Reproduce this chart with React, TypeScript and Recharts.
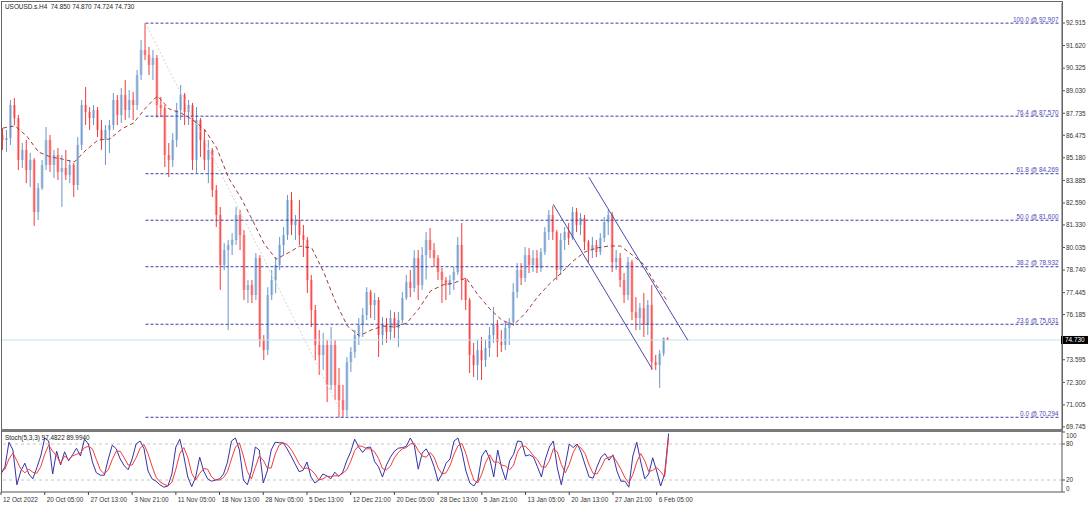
import React from "react";
import { Bar, ComposedChart, Line, ReferenceLine, XAxis, YAxis } from "recharts";

const FONT = "'Liberation Sans', Arial, sans-serif";
const FS = 6.4;

const opens = [
  86.49, 86.2, 86.32, 88.21, 87.46, 85.06, 85.63, 84.48, 85.06, 82.07,
  83.44, 84.77, 86.2, 84.77, 85.34, 84.37, 84.6, 84.19, 84.77, 83.62,
  85.92, 88.21, 87.81, 87.46, 87.92, 86.78, 86.2, 86.78, 87.06, 88.5,
  87.64, 88.79, 87.92, 88.5, 88.21, 89.93, 91.37, 91.08, 90.51, 90.91,
  88.21, 88.04, 85.34, 85.06, 86.2, 87.92, 88.79, 87.81, 88.21, 85.06,
  87.35, 86.2, 85.06, 85.63, 83.33, 81.9, 79.03, 79.89, 80.18, 80.47,
  81.9, 80.75, 77.6, 77.88, 77.31, 79.43, 74.73, 74.15, 77.31, 78.17,
  79.03, 80.18, 80.75, 82.76, 81.33, 81.61, 80.75, 80.47, 78.17, 76.45,
  74.44, 73.87, 74.44, 72.15, 74.44, 72.15, 71.29, 70.71, 73.46, 74.04,
  75.01, 75.59, 76.16, 77.48, 76.74, 77.02, 75.01, 75.59, 75.19, 75.99,
  75.42, 75.87, 77.14, 78.06, 77.71, 79.43, 77.88, 79.6, 80.47, 79.89,
  79.43, 78.63, 78.17, 77.88, 78.17, 78.63, 80.18, 78.17, 77.02, 73.87,
  73.29, 74.15, 73.58, 74.27, 75.01, 75.59, 74.61, 74.44, 75.42, 75.76,
  77.48, 78.74, 78.29, 79.6, 79.03, 79.43, 78.86, 79.78, 80.92, 81.9,
  80.92, 78.74, 80.47, 80.92, 80.58, 82.07, 81.33, 81.73, 80.35, 79.89,
  80.18, 79.78, 80.58, 81.5, 81.9, 79.2, 79.43, 78.17, 77.31, 79.2,
  76.33, 75.99, 76.56, 75.59, 76.74, 73.46, 73.29, 73.95, 74.85,
];
const highs = [
  86.89, 86.78, 88.5, 88.61, 87.64, 86.03, 86.2, 85.46, 85.17, 83.73,
  85.06, 86.95, 86.49, 85.63, 85.74, 85.34, 85.63, 85.06, 84.88, 86.37,
  88.5, 89.24, 88.09, 88.21, 88.09, 87.35, 87.06, 87.35, 88.9, 88.79,
  89.19, 89.65, 89.07, 88.96, 90.22, 91.94, 92.91, 91.54, 91.37, 91.08,
  88.67, 88.21, 86.03, 86.6, 88.33, 89.36, 88.9, 88.5, 88.33, 88.09,
  87.46, 86.78, 86.2, 85.74, 83.62, 82.36, 80.29, 80.47, 80.86, 82.36,
  82.19, 81.04, 78.17, 78.17, 79.72, 79.6, 75.01, 77.76, 78.74, 79.49,
  80.64, 81.21, 83.05, 83.22, 81.9, 82.76, 81.33, 80.64, 78.46, 76.74,
  75.3, 75.13, 74.73, 75.47, 74.73, 73.12, 72.15, 73.75, 74.32, 75.3,
  75.99, 76.56, 77.76, 77.6, 77.42, 77.19, 76.05, 75.99, 76.45, 76.33,
  76.33, 77.48, 78.46, 78.74, 79.89, 79.89, 80.06, 80.92, 81.15, 80.29,
  79.6, 78.86, 78.34, 78.46, 78.92, 80.64, 81.44, 78.29, 77.14, 74.56,
  74.73, 74.9, 74.73, 75.47, 76.62, 75.87, 75.3, 75.76, 75.99, 77.99,
  79.14, 79.14, 80.06, 80.0, 79.89, 79.89, 80.0, 81.21, 82.19, 82.42,
  81.04, 80.86, 81.21, 81.44, 82.36, 82.3, 82.01, 81.9, 80.47, 80.64,
  80.47, 80.86, 81.79, 82.19, 82.07, 79.89, 79.72, 78.57, 79.49, 79.32,
  77.19, 76.85, 77.42, 77.02, 77.88, 73.87, 74.15, 74.87, 74.87,
];
const lows = [
  85.63, 85.52, 85.92, 87.06, 84.48, 84.6, 83.73, 83.5, 81.27, 81.61,
  83.33, 84.48, 84.37, 84.02, 83.91, 82.36, 83.91, 83.73, 82.93, 83.33,
  85.63, 87.06, 86.78, 87.06, 86.37, 85.63, 84.77, 85.46, 86.78, 87.06,
  87.18, 87.35, 87.46, 87.35, 87.92, 89.65, 90.79, 89.93, 89.65, 87.49,
  87.52, 84.65, 84.08, 84.65, 85.8, 87.35, 87.06, 87.06, 84.48, 84.31,
  85.23, 84.48, 83.73, 82.93, 81.21, 77.6, 78.74, 75.3, 79.6, 80.18,
  79.89, 77.02, 76.85, 76.85, 77.02, 74.32, 73.58, 73.87, 77.02, 77.42,
  78.74, 79.6, 80.47, 80.75, 80.47, 80.18, 79.49, 77.42, 75.47, 73.58,
  72.72, 73.01, 71.17, 71.86, 71.29, 70.29, 70.29, 70.35, 72.89, 73.7,
  74.44, 74.9, 75.87, 75.99, 75.87, 73.75, 74.44, 74.56, 74.73, 74.84,
  74.32, 75.7, 77.02, 77.19, 77.48, 77.02, 77.6, 78.2, 79.43, 78.92,
  78.17, 76.85, 77.02, 77.31, 77.6, 78.46, 77.02, 76.45, 72.83, 72.6,
  72.43, 72.43, 73.18, 73.75, 74.56, 73.75, 74.04, 74.15, 74.44, 75.59,
  77.14, 77.88, 78.06, 78.57, 78.63, 78.57, 78.63, 79.6, 80.47, 80.47,
  78.17, 78.46, 79.89, 80.18, 80.47, 80.92, 80.75, 79.89, 79.2, 79.43,
  79.49, 79.6, 80.35, 80.75, 78.63, 78.74, 77.76, 76.85, 77.02, 75.87,
  75.3, 75.3, 74.9, 75.01, 73.01, 73.01, 71.98, 73.8, 74.72,
];
const closes = [
  86.2, 86.32, 88.21, 87.46, 85.06, 85.63, 84.48, 85.06, 82.07, 83.44,
  84.77, 86.2, 84.77, 85.34, 84.37, 84.6, 84.19, 84.77, 83.62, 85.92,
  88.21, 87.81, 87.46, 87.92, 86.78, 86.2, 86.78, 87.06, 88.5, 87.64,
  88.79, 87.92, 88.5, 88.21, 89.93, 91.37, 91.08, 90.51, 90.91, 88.21,
  88.04, 85.34, 85.06, 86.2, 87.92, 88.79, 87.81, 88.21, 85.06, 87.35,
  86.2, 85.06, 85.63, 83.33, 81.9, 79.03, 79.89, 80.18, 80.47, 81.9,
  80.75, 77.6, 77.88, 77.31, 79.43, 74.73, 74.15, 77.31, 78.17, 79.03,
  80.18, 80.75, 82.76, 81.33, 81.61, 80.75, 80.47, 78.17, 76.45, 74.44,
  73.87, 74.44, 72.15, 74.44, 72.15, 71.29, 70.71, 73.46, 74.04, 75.01,
  75.59, 76.16, 77.48, 76.74, 77.02, 75.01, 75.59, 75.19, 75.99, 75.42,
  75.87, 77.14, 78.06, 77.71, 79.43, 77.88, 79.6, 80.47, 79.89, 79.43,
  78.63, 78.17, 77.88, 78.17, 78.63, 80.18, 78.17, 77.02, 73.87, 73.29,
  74.15, 73.58, 74.27, 75.01, 75.59, 74.61, 74.44, 75.42, 75.76, 77.48,
  78.74, 78.29, 79.6, 79.03, 79.43, 78.86, 79.78, 80.92, 81.9, 80.92,
  78.74, 80.47, 80.92, 80.58, 82.07, 81.33, 81.73, 80.35, 79.89, 80.18,
  79.78, 80.58, 81.5, 81.9, 79.2, 79.43, 78.17, 77.31, 79.2, 76.33,
  75.99, 76.56, 75.59, 76.74, 73.46, 73.29, 73.95, 74.85, 74.73,
];

// moving average, read at every third candle
const maEvery3 = [
  86.89, 87.01, 86.43, 85.51, 85.23, 85.11, 84.94, 85.63, 86.2, 86.26,
  86.84, 87.18, 88.04, 88.73, 87.98, 87.75, 87.35, 86.78, 85.74, 84.02,
  82.93, 81.61, 80.24, 79.37, 79.72, 80.12, 80.0, 78.63, 76.91, 75.53,
  74.96, 75.3, 75.53, 75.47, 75.7, 76.51, 77.54, 77.88, 78.0, 78.29,
  77.31, 76.51, 75.87, 75.59, 76.28, 77.19, 77.94, 78.57, 79.26, 79.78,
  80.01, 80.12, 80.12, 79.6, 79.03, 77.88, 76.91,
];

// Stoch(5,3,3)
const stochK = [
  30, 42, 83, 70, 12, 35, 48, 30, 22, 40, 60, 90, 85, 30, 68, 45, 67, 52, 62, 73,
  60, 88, 80, 50, 32, 28, 28, 55, 78, 72, 55, 44, 37, 55, 80, 85, 72, 35, 22, 18,
  12, 8, 10, 30, 75, 88, 60, 25, 9, 25, 58, 35, 22, 18, 20, 22, 30, 50, 85, 90,
  70, 20, 12, 35, 75, 70, 15, 35, 70, 83, 82, 82, 72, 60, 47, 34, 36, 50, 25, 15,
  20, 30, 27, 22, 33, 26, 33, 52, 67, 88, 75, 66, 74, 75, 51, 42, 25, 45, 58, 68,
  73, 74, 76, 90, 78, 38, 65, 72, 60, 42, 18, 30, 48, 55, 85, 90, 67, 35, 15, 10,
  20, 60, 70, 55, 25, 70, 40, 20, 52, 63, 85, 84, 60, 62, 58, 42, 25, 55, 75, 85,
  40, 12, 45, 80, 74, 80, 66, 45, 25, 23, 42, 58, 64, 53, 62, 35, 18, 18, 8, 60,
  83, 50, 22, 30, 57, 35, 10, 30, 97.48,
];
const stochD = [
  35, 38, 55, 65, 52, 38, 32, 38, 33, 31, 42, 63, 78, 68, 60, 48, 60, 54, 60, 63,
  65, 74, 76, 72, 54, 37, 30, 37, 54, 68, 68, 57, 45, 45, 57, 73, 79, 64, 43, 25,
  17, 13, 10, 16, 38, 64, 74, 58, 31, 20, 31, 39, 38, 25, 20, 20, 24, 34, 55, 75,
  82, 60, 34, 22, 41, 60, 53, 40, 40, 63, 78, 82, 79, 71, 60, 47, 39, 40, 37, 30,
  20, 22, 26, 26, 27, 27, 31, 37, 51, 69, 77, 76, 72, 72, 67, 56, 39, 37, 43, 57,
  66, 72, 74, 80, 81, 69, 60, 58, 66, 58, 40, 30, 32, 44, 63, 77, 81, 64, 39, 20,
  15, 30, 50, 62, 50, 50, 45, 43, 37, 45, 67, 77, 76, 69, 60, 54, 42, 41, 52, 72,
  67, 46, 32, 46, 66, 78, 73, 64, 45, 31, 30, 41, 55, 58, 60, 50, 38, 24, 15, 29,
  50, 64, 52, 34, 36, 41, 34, 25, 89.99,
];

const priceTicks = [
  92.915, 91.62, 90.325, 89.03, 87.735, 86.475, 85.18, 83.885, 82.59, 81.33,
  80.035, 78.74, 77.445, 76.185, 74.73, 73.595, 72.3, 71.005, 69.745,
];
const lastPrice = 74.73;

const fibPct = ["100.0", "76.4", "61.8", "50.0", "38.2", "23.6", "0.0"];
const fibPrice = [92.907, 87.57, 84.269, 81.6, 78.932, 75.631, 70.294];

const dateIdx = [0, 11, 22, 33, 44, 55, 66, 77, 88, 99, 110, 121, 132, 143, 154, 165];
const dateText = [
  "12 Oct 2022", "20 Oct 05:00", "27 Oct 13:00", "3 Nov 21:00", "11 Nov 05:00",
  "18 Nov 13:00", "28 Nov 05:00", "5 Dec 13:00", "12 Dec 21:00", "20 Dec 05:00",
  "28 Dec 13:00", "5 Jan 21:00", "13 Jan 05:00", "20 Jan 13:00", "27 Jan 21:00",
  "6 Feb 05:00",
];

const SLOTS = 268;

const rows = Array.from({ length: SLOTS }, (_, i) => {
  if (i >= opens.length) return { i };
  return {
    i,
    o: opens[i],
    h: highs[i],
    l: lows[i],
    c: closes[i],
    range: [lows[i], highs[i]],
    ma: i % 3 === 0 ? maEvery3[i / 3] : null,
    k: stochK[i],
    d: stochD[i],
  };
});

function Candle(props: any) {
  const { x, y, width, height, payload } = props;
  if (!payload || payload.h == null || !isFinite(y) || !isFinite(height)) return null;
  const { o, h, l, c } = payload;
  const up = c >= o;
  const top = Math.min(y, y + height);
  const span = Math.abs(height);
  const cx = x + width / 2;
  const toY = (v: number) => top + ((h - v) / (h - l || 1)) * span;
  const bTop = toY(Math.max(o, c));
  const bBot = toY(Math.min(o, c));
  return (
    <g>
      <rect
        x={cx - 1.4}
        y={bTop}
        width={2.8}
        height={Math.max(bBot - bTop, 0.8)}
        fill={up ? "#b2cbe5" : "#ffa9a9"}
      />
      <line x1={cx} x2={cx} y1={top} y2={top + span} stroke={up ? "#6996c9" : "#f23b3b"} strokeWidth={1} />
    </g>
  );
}

function PriceTick(props: any) {
  const { x, y, payload } = props;
  const v = payload.value as number;
  if (Math.abs(v - lastPrice) < 1e-6) {
    return (
      <g>
        <rect x={x - 5} y={y - 4} width={27} height={8} fill="#000" />
        <text x={x - 1} y={y} dy={2.3} fill="#fff" fontSize={FS} fontFamily={FONT}>
          {v.toFixed(3)}
        </text>
      </g>
    );
  }
  return (
    <text x={x} y={y} dy={2.3} fill="#333" fontSize={FS} fontFamily={FONT}>
      {v.toFixed(3)}
    </text>
  );
}

function StochTick(props: any) {
  const { x, y, payload } = props;
  const v = payload.value as number;
  const shift = v === 100 ? 4 : v === 0 ? -3 : 0;
  return (
    <text x={x} y={y + shift} dy={2.3} fill="#333" fontSize={FS} fontFamily={FONT}>
      {v}
    </text>
  );
}

function DateTick(props: any) {
  const { x, y, payload } = props;
  const k = dateIdx.indexOf(payload.value);
  if (k < 0) return <g />;
  return (
    <g>
      <line x1={x} x2={x} y1={y} y2={y + 3} stroke="#444" />
      <text x={x + 2} y={y + 9.5} fill="#333" fontSize={FS} fontFamily={FONT}>
        {dateText[k]}
      </text>
    </g>
  );
}

export default function App() {
  return (
    <div style={{ position: "absolute", left: 0, top: 0, width: 1090, height: 507, background: "#fff", fontFamily: FONT }}>
      <div style={{ position: "absolute", left: 0, top: 0 }}>
        <ComposedChart width={1090} height={430} data={rows} margin={{ top: 3, right: 0, bottom: 1, left: 1 }}>
          <XAxis dataKey="i" type="category" hide />
          <YAxis
            orientation="right"
            width={28}
            domain={[69.622, 94.063]}
            allowDataOverflow
            ticks={priceTicks}
            interval={0}
            tick={<PriceTick />}
            tickSize={3}
            tickMargin={1}
            axisLine={{ stroke: "#555" }}
            tickLine={{ stroke: "#555" }}
          />
          <ReferenceLine y={lastPrice} stroke="#bfe4ee" strokeWidth={1} />
          <ReferenceLine
            segment={[{ x: 36, y: 92.907 }, { x: 86, y: 70.294 }]}
            stroke="#d4d4d4"
            strokeDasharray="2 2"
          />
          {fibPrice.map((p, n) => (
            <ReferenceLine
              key={p}
              segment={[{ x: 36, y: p }, { x: 267, y: p }]}
              stroke="#3b3ba6"
              strokeDasharray="3 2"
              label={{
                value: `${fibPct[n]} @ ${p.toFixed(3)}`,
                position: "insideBottomRight",
                offset: 1.5,
                fill: "#4d4db5",
                fontSize: FS,
                fontFamily: FONT,
              }}
            />
          ))}
          <Bar dataKey="range" shape={<Candle />} barSize={3} isAnimationActive={false} />
          <Line
            dataKey="ma"
            connectNulls
            dot={false}
            stroke="#a03a3a"
            strokeWidth={1}
            strokeDasharray="4 3"
            isAnimationActive={false}
          />
          <ReferenceLine segment={[{ x: 139, y: 82.51 }, { x: 164, y: 73.06 }]} stroke="#4a4aae" strokeWidth={1} />
          <ReferenceLine segment={[{ x: 148, y: 84.07 }, { x: 173, y: 74.71 }]} stroke="#4a4aae" strokeWidth={1} />
        </ComposedChart>
      </div>

      <div style={{ position: "absolute", left: 0, top: 430 }}>
        <ComposedChart width={1090} height={77} data={rows} margin={{ top: 2, right: 0, bottom: 0, left: 1 }}>
          <XAxis
            dataKey="i"
            type="category"
            height={15}
            interval={0}
            tick={<DateTick />}
            tickSize={0}
            tickMargin={0}
            axisLine={{ stroke: "#555" }}
            tickLine={false}
          />
          <YAxis
            orientation="right"
            width={28}
            domain={[0, 100]}
            ticks={[0, 20, 80, 100]}
            interval={0}
            tick={<StochTick />}
            tickSize={3}
            tickMargin={1}
            axisLine={{ stroke: "#555" }}
            tickLine={{ stroke: "#555" }}
          />
          <ReferenceLine y={80} stroke="#c6c6c6" strokeDasharray="3 3" />
          <ReferenceLine y={20} stroke="#c6c6c6" strokeDasharray="3 3" />
          <Line dataKey="k" dot={false} stroke="#3434a6" strokeWidth={1} isAnimationActive={false} />
          <Line dataKey="d" dot={false} stroke="#f43c3c" strokeWidth={1} isAnimationActive={false} />
        </ComposedChart>
      </div>

      {/* frames */}
      <div style={{ position: "absolute", left: 1, top: 1, width: 1062, height: 429, border: "1px solid #666", boxSizing: "border-box", pointerEvents: "none" }} />
      <div style={{ position: "absolute", left: 1, top: 429, width: 1062, height: 3, background: "#7a7a7a", pointerEvents: "none" }} />
      <div style={{ position: "absolute", left: 1, top: 431, width: 1062, height: 62, borderLeft: "1px solid #666", boxSizing: "border-box", pointerEvents: "none" }} />

      <div style={{ position: "absolute", left: 5, top: 3, fontSize: FS, color: "#222", whiteSpace: "pre", lineHeight: "8px" }}>
        {"USOUSD.s.H4  74.850 74.870 74.724 74.730"}
      </div>
      <div style={{ position: "absolute", left: 5, top: 434, fontSize: FS, color: "#222", whiteSpace: "pre", lineHeight: "8px" }}>
        {"Stoch(5,3,3) 97.4822 89.9940"}
      </div>
    </div>
  );
}
